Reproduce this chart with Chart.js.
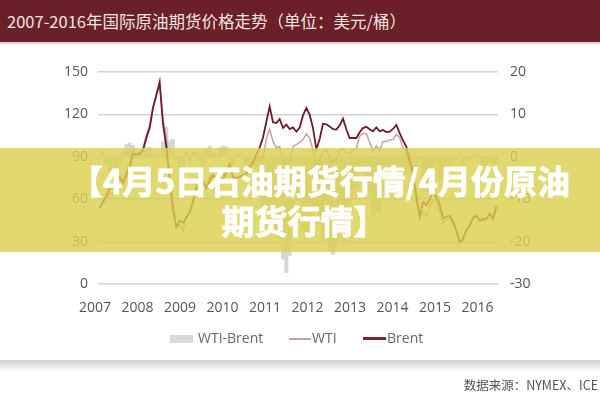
<!DOCTYPE html>
<html>
<head>
<meta charset="utf-8">
<script src="https://cdn.jsdelivr.net/npm/chart.js@4.4.0/dist/chart.umd.min.js"></script>
<style>
  body { margin: 0; background: #fff; }
  #wrap { position: relative; width: 600px; height: 400px; overflow: hidden; font-family: "Noto Sans CJK SC", "Open Sans", sans-serif; }
  #chart { position: absolute; left: 0; top: 0; }
  .titlebar { position: absolute; left: 0; top: 0; width: 600px; height: 44px; background: #6a2026; border-bottom: 2px solid #e6cfcf; color: #f2e4e4; font-size: 16.5px; line-height: 43px; padding-left: 7px; box-sizing: border-box; }
  .legend { position: absolute; top: 328px; font-family: "Open Sans", sans-serif; font-size: 14px; color: #666; line-height: 20px; }
  .legend span { position: absolute; white-space: nowrap; }
  .swatch { position: absolute; }
  .shade { position: absolute; left: 0; top: 360px; width: 600px; height: 12px; background: linear-gradient(#d0d0d0, #fff); }
  .source { position: absolute; right: 2px; top: 375px; font-size: 12.5px; color: #555; }
  .banner { position: absolute; left: 0; top: 148px; width: 600px; height: 104px; background: rgba(218, 208, 80, 0.82); }
  .banner div { position: absolute; text-align: center; color: #fff; font-weight: 700; font-size: 33px; line-height: 40px; white-space: nowrap; -webkit-text-stroke: 0.8px #fff; }
</style>
</head>
<body>
<div id="wrap">
  <canvas id="chart" width="600" height="400"></canvas>
  <div class="titlebar">2007-2016年国际原油期货价格走势（单位：美元/桶）</div>
  <div class="legend">
    <div class="swatch" style="left:170px;top:7px;width:23px;height:8px;background:#d9d9d9"></div>
    <span style="left:198px;top:0">WTI-Brent</span>
    <div class="swatch" style="left:289px;top:10px;width:22px;height:2px;background:#c9a0a6"></div>
    <span style="left:312px;top:0">WTI</span>
    <div class="swatch" style="left:363px;top:9px;width:23px;height:3px;background:#7a2530"></div>
    <span style="left:387px;top:0">Brent</span>
  </div>
  <div class="shade"></div>
  <div class="source">数据来源：NYMEX、ICE</div>
  <div class="banner">
    <div style="left:40px;width:560px;top:12px">【4月5日石油期货行情/4月份原油</div>
    <div style="left:4px;width:600px;top:52px">期货行情】</div>
  </div>
</div>
<script>
// monthly averages, Jan 2007 .. Dec 2016
const years = [2007, 2008, 2009, 2010, 2011, 2012, 2013, 2014, 2015, 2016];

const brent = [
  53.5, 57.8, 62.4, 67.5, 67.9, 70.6, 75.8, 71.2, 77.0, 82.5, 92.1, 91.5,
  92.0, 94.8, 103.3, 110.4, 124.6, 133.5, 143.0, 113.2, 97.1, 72.8, 53.2, 40.0,
  44.9, 43.2, 46.8, 50.8, 57.9, 68.6, 64.9, 72.5, 67.7, 73.2, 77.0, 74.7,
  76.2, 73.8, 78.8, 84.8, 75.9, 74.8, 75.6, 77.1, 78.2, 83.5, 86.1, 91.5,
  96.5, 103.7, 114.6, 125.5, 114.5, 113.9, 116.7, 110.4, 112.8, 109.6, 110.8, 107.9,
  110.7, 119.3, 124.5, 119.8, 110.3, 95.2, 102.6, 113.4, 113.0, 111.5, 109.5, 109.2,
  112.3, 117.0, 109.5, 103.3, 103.3, 103.3, 107.4, 110.3, 111.2, 109.5, 108.1, 110.8,
  108.1, 108.9, 107.5, 107.8, 109.7, 112.5, 106.8, 101.6, 97.1, 87.4, 79.4, 62.3,
  47.8, 58.1, 55.9, 59.5, 65.0, 61.5, 56.6, 46.5, 47.6, 48.4, 44.3, 38.0,
  29.5, 32.2, 38.2, 41.6, 46.7, 48.3, 44.9, 46.1, 46.2, 49.7, 46.4, 55.0
];

const wti = [
  53.0, 59.3, 60.4, 64.0, 63.5, 67.5, 74.1, 72.4, 79.9, 85.8, 94.8, 91.7,
  93.0, 95.4, 105.4, 112.6, 125.4, 133.9, 140.0, 116.7, 104.1, 76.6, 57.3, 40.0,
  41.7, 37.5, 47.9, 49.6, 59.0, 69.6, 64.2, 71.1, 69.4, 75.7, 78.0, 74.5,
  78.3, 76.4, 81.2, 84.3, 73.7, 75.3, 76.3, 76.6, 75.2, 81.9, 84.3, 89.2,
  89.2, 88.6, 102.9, 109.5, 100.9, 96.3, 97.3, 86.3, 85.5, 86.3, 97.2, 98.6,
  100.3, 102.2, 106.2, 103.3, 94.7, 82.3, 87.9, 94.1, 94.5, 89.5, 86.5, 87.9,
  94.8, 95.3, 92.9, 92.0, 94.5, 95.8, 104.6, 106.6, 106.3, 100.5, 93.9, 97.6,
  94.6, 100.8, 100.8, 102.1, 102.2, 105.8, 103.6, 96.5, 93.2, 84.4, 75.8, 59.3,
  47.2, 50.6, 47.8, 54.5, 59.3, 59.8, 50.9, 42.9, 45.5, 46.2, 42.7, 37.3,
  30.0, 30.6, 37.6, 40.8, 46.7, 48.8, 44.7, 44.7, 45.2, 49.8, 45.7, 52.5
];

// WTI-Brent, right axis
const spread = [
  -0.1, 1.5, -2.0, -3.5, -4.4, -3.1, -1.7, 1.2, 2.9, 3.3, 2.7, 0.2,
  1.0, 0.6, 2.1, 2.2, 0.8, 0.4, 0.4, 3.5, 7.0, 3.8, 4.1, -0.5,
  -3.2, -4.1, 1.1, -1.2, 1.1, 1.0, -0.7, -1.4, 1.7, 2.5, 1.0, -0.2,
  2.1, 2.6, 2.4, -0.5, -2.2, 0.5, 0.7, -0.5, -3.0, -1.6, -1.8, -2.3,
  -7.3, -15.1, -11.7, -13.8, -13.6, -17.6, -19.4, -24.1, -27.3, -23.3, -13.6, -9.3,
  -10.4, -17.1, -19.3, -16.5, -15.6, -12.9, -14.7, -19.3, -18.5, -22.0, -23.0, -21.3,
  -17.5, -20.8, -16.6, -11.3, -8.8, -7.5, -2.8, -3.7, -4.9, -9.0, -14.2, -13.2,
  -13.5, -8.1, -6.7, -5.7, -7.5, -6.1, -3.2, -5.1, -3.9, -3.0, -3.6, -3.0,
  -0.6, -7.5, -8.1, -5.0, -5.0, -1.7, -5.7, -3.6, -2.1, -2.2, -1.6, -0.7,
  0.8, -1.6, -0.6, -0.8, 0.0, 0.5, -0.2, -2.3, -1.8, -1.5, -1.3, -2.6
];

function toPoints(arr) {
  return arr.map((v, i) => ({ x: years[0] + (i + 0.5) / 12, y: v }));
}

const tickFont = { family: "Open Sans", size: 14 };

const config = {
  type: "line",
  data: {
    datasets: [
      {
        label: "Brent",
        data: toPoints(brent),
        borderColor: "#6d1b27",
        borderWidth: 1.8,
        pointRadius: 0,
        tension: 0,
        xAxisID: "x",
        yAxisID: "y",
        order: 1,
      },
      {
        label: "WTI",
        data: toPoints(wti),
        borderColor: "#c9a0a6",
        borderWidth: 1.5,
        pointRadius: 0,
        tension: 0,
        xAxisID: "x",
        yAxisID: "y",
        order: 2,
      },
      {
        type: "bar",
        label: "WTI-Brent",
        data: toPoints(spread),
        backgroundColor: "#d6d6d6",
        barPercentage: 1,
        categoryPercentage: 1,
        xAxisID: "x",
        yAxisID: "y2",
        order: 3,
      },
    ],
  },
  options: {
    responsive: false,
    animation: false,
    devicePixelRatio: 1,
    layout: { padding: { top: 72, bottom: 71, left: 0, right: 0 } },
    plugins: { legend: { display: false }, tooltip: { enabled: false } },
    scales: {
      x: { type: "linear", min: 2007, max: 2017, offset: false, display: false },
      // year labels sit on their own spacing in the original, not on the data
      xl: {
        type: "linear",
        position: "bottom",
        min: 2007.07,
        max: 2016.48,
        offset: false,
        grid: { display: false, drawTicks: false },
        border: { display: false },
        afterBuildTicks: (s) => { s.ticks = years.map((v) => ({ value: v })); },
        afterFit: (s) => { s.height = 45; },
        ticks: { autoSkip: false, maxRotation: 0, padding: 16, color: "#555", font: tickFont, callback: (v) => String(v) },
      },
      y: {
        position: "left",
        min: 0,
        max: 150,
        grid: { color: "#d2d2d2", lineWidth: 1.5, drawTicks: false },
        border: { display: false },
        afterFit: (s) => { s.width = 98; },
        ticks: { stepSize: 30, padding: 10, color: "#555", font: tickFont },
      },
      y2: {
        position: "right",
        min: -30,
        max: 20,
        grid: { display: false, drawTicks: false },
        border: { display: false },
        afterFit: (s) => { s.width = 102; },
        ticks: { stepSize: 10, padding: 12, color: "#555", font: tickFont },
      },
    },
  },
};

const myChart = new Chart(document.getElementById("chart"), config);
</script>
</body>
</html>
